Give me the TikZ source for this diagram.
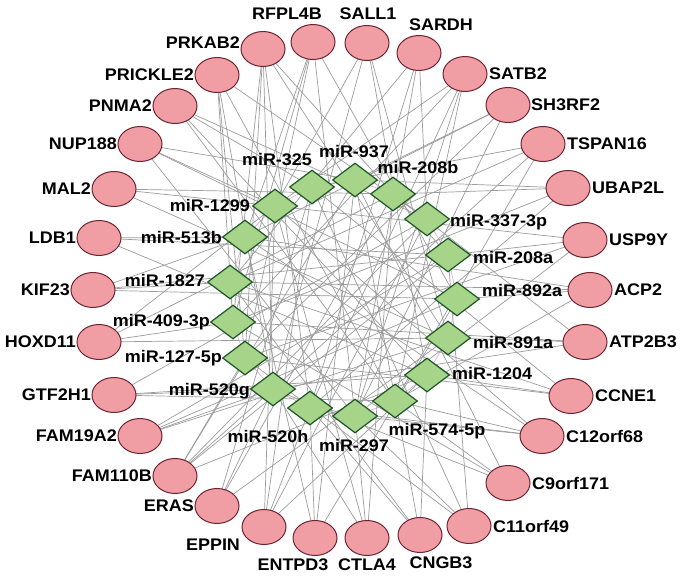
\documentclass[tikz,border=0pt]{standalone}
\usepackage{fontspec}
\setmainfont{Liberation Sans}[FakeStretch=1.07]
\usetikzlibrary{shapes.geometric}
\pgfdeclarelayer{bg}
\pgfsetlayers{bg,main}
\definecolor{pinkfill}{HTML}{F09EA3}
\definecolor{pinkdraw}{HTML}{6E2433}
\definecolor{greenfill}{HTML}{A6D58A}
\definecolor{greendraw}{HTML}{1C5426}
\definecolor{edgegray}{HTML}{9C9C9C}
\definecolor{ringpink}{HTML}{D9A8D0}
\begin{document}
\begin{tikzpicture}[x=1pt,y=-1pt,
  gene/.style={ellipse,draw=pinkdraw,fill=pinkfill,line width=1pt,minimum width=44pt,minimum height=35pt,inner sep=0pt},
  mirna/.style={diamond,draw=greendraw,fill=greenfill,line width=1.2pt,minimum width=45pt,minimum height=34pt,inner sep=0pt},
  lbl/.style={font=\fontsize{16.8}{18}\selectfont\bfseries,inner sep=0pt,text=black},
  edge/.style={draw=edgegray,line width=0.7pt},
  ring/.style={draw=ringpink,line width=0.6pt}]
\useasboundingbox (0,0) rectangle (685,583);
% genes
\foreach \n/\x/\y in {RFPL4B/313/42, SALL1/367/43, SARDH/419/53, SATB2/465/74, SH3RF2/508/105,
  TSPAN16/543/144, UBAP2L/568/188, USP9Y/585/240, ACP2/590/290, ATP2B3/585/342, CCNE1/571/396,
  C12orf68/542/436, C9orf171/508/483, C11orf49/469/526, CNGB3/420/535, CTLA4/367/538,
  ENTPD3/315/538, EPPIN/264/527, ERAS/217/506, FAM110B/175/476, FAM19A2/140/436,
  GTF2H1/114/395, HOXD11/99/342, KIF23/93/290, LDB1/99/238, MAL2/114/189, NUP188/140/144,
  PNMA2/175/106, PRICKLE2/217/75, PRKAB2/263/49}
  \node[gene] (\n) at (\x,\y) {};
% miRNAs
\foreach \n/\x/\y in {m937/355/180, m208b/393/194, m337/427/219, m208a/448/255, m892/457/299,
  m891/448/338, m1204/427/375, m574/395/401, m297/355/416, m520h/310/408, m520g/273/389,
  m127/245/358, m409/233/322, m1827/230/282, m513/245/237, m1299/275/206, m325/312/187}
  \node[mirna] (\n) at (\x,\y) {};
% gene labels
\foreach \n/\t/\a/\x/\y in {
  lRFPL4B/RFPL4B/center/287/14, lSALL1/SALL1/center/368/14, lSARDH/SARDH/center/441/25,
  lSATB2/SATB2/west/489/74, lSH3RF2/SH3RF2/west/531/105, lTSPAN16/TSPAN16/west/567/144,
  lUBAP2L/UBAP2L/west/592/188, lUSP9Y/USP9Y/west/609/240, lACP2/ACP2/west/614/290,
  lATP2B3/ATP2B3/west/609/342, lCCNE1/CCNE1/west/595/396, lC12orf68/C12orf68/west/566/436,
  lC9orf171/C9orf171/west/532/483, lC11orf49/C11orf49/west/493/526,
  lCNGB3/CNGB3/center/441/563, lCTLA4/CTLA4/center/367/565, lENTPD3/ENTPD3/center/293/565,
  lEPPIN/EPPIN/center/213/545, lERAS/ERAS/east/194/506, lFAM110B/FAM110B/east/152/476,
  lFAM19A2/FAM19A2/east/117/436, lGTF2H1/GTF2H1/east/91/395, lHOXD11/HOXD11/east/76/342,
  lKIF23/KIF23/east/70/290, lLDB1/LDB1/east/76/238, lMAL2/MAL2/east/91/189,
  lNUP188/NUP188/east/117/144, lPNMA2/PNMA2/east/152/106, lPRICKLE2/PRICKLE2/east/194/75,
  lPRKAB2/PRKAB2/east/240/43}
  \node[lbl,anchor=\a] (\n) at (\x,\y) {\t};
% miRNA labels
\foreach \n/\t/\a/\x/\y in {
  l937/miR-937/center/354/152, l325/miR-325/center/277/160, l208b/miR-208b/center/418/167,
  l1299/miR-1299/east/250/205, l513/miR-513b/east/222/238, l1827/miR-1827/east/205/280,
  l409/miR-409-3p/east/210/322, l127/miR-127-5p/east/222/358, l520g/miR-520g/east/250/391,
  l520h/miR-520h/center/268/436, l297/miR-297/center/354/445, l574/miR-574-5p/center/437/431,
  l1204/miR-1204/west/452/373, l891/miR-891a/west/473/342, l892/miR-892a/west/482/290,
  l208a/miR-208a/west/473/257, l337/miR-337-3p/west/450/222}
  \node[lbl,anchor=\a] (\n) at (\x,\y) {\t};
\begin{pgfonlayer}{bg}
\fill[white] (0,0) rectangle (685,583);
\foreach \a/\b in {m937/m208b, m208b/m337, m337/m208a, m208a/m892, m892/m891, m891/m1204,
  m1204/m574, m574/m297, m297/m520h, m520h/m520g, m520g/m127, m127/m409, m409/m1827,
  m1827/m513, m513/m1299, m1299/m325, m325/m937}
  \draw[ring] (\a.center) -- (\b.center);
\foreach \a/\b in {
  RFPL4B/m513, RFPL4B/m127, RFPL4B/m409, RFPL4B/m297, RFPL4B/m892,
  SALL1/m1299, SALL1/m520g, SALL1/m891, SALL1/m1204,
  SARDH/m1827, SARDH/m520h, SARDH/m297, SARDH/m337,
  SATB2/m1299, SATB2/m409, SATB2/m574, SATB2/m297, SATB2/m520h,
  SH3RF2/m513, SH3RF2/m127, SH3RF2/m297, SH3RF2/m937,
  TSPAN16/m1827, TSPAN16/m520g, TSPAN16/m574, TSPAN16/m325,
  UBAP2L/m208b, UBAP2L/m937, UBAP2L/m409, UBAP2L/m520h,
  USP9Y/m208a, USP9Y/m1299, USP9Y/m127, USP9Y/m297,
  ACP2/m892, ACP2/m1827, ACP2/m513, ACP2/m574,
  ATP2B3/m891, ATP2B3/m409, ATP2B3/m520g, ATP2B3/m208b,
  CCNE1/m1204, CCNE1/m127, CCNE1/m325, CCNE1/m1827,
  C12orf68/m574, C12orf68/m520h, C12orf68/m513, C12orf68/m1299, C12orf68/m297,
  C9orf171/m574, C9orf171/m520g, C9orf171/m937, C9orf171/m409,
  C11orf49/m297, C11orf49/m127, C11orf49/m325, C11orf49/m208a,
  CNGB3/m520h, CNGB3/m1827, CNGB3/m1204, CNGB3/m937,
  CTLA4/m297, CTLA4/m1299, CTLA4/m208b, CTLA4/m520g,
  ENTPD3/m520h, ENTPD3/m937, ENTPD3/m892, ENTPD3/m513,
  EPPIN/m520h, EPPIN/m337, EPPIN/m1204, EPPIN/m325, EPPIN/m1299,
  ERAS/m520g, ERAS/m208b, ERAS/m325, ERAS/m891,
  FAM110B/m127, FAM110B/m520g, FAM110B/m337, FAM110B/m208a, FAM110B/m937, FAM110B/m1204,
  FAM19A2/m520g, FAM19A2/m892, FAM19A2/m891, FAM19A2/m208a,
  GTF2H1/m520g, GTF2H1/m574, GTF2H1/m1204, GTF2H1/m337,
  HOXD11/m409, HOXD11/m891, HOXD11/m208b, HOXD11/m1299,
  KIF23/m1827, KIF23/m208a, KIF23/m892, KIF23/m513,
  LDB1/m513, LDB1/m1204, LDB1/m208a,
  MAL2/m1299, MAL2/m208b, MAL2/m891,
  NUP188/m1299, NUP188/m937, NUP188/m892, NUP188/m297,
  PNMA2/m325, PNMA2/m337, PNMA2/m1204, PNMA2/m574,
  PRICKLE2/m409, PRICKLE2/m127, PRICKLE2/m520g, PRICKLE2/m337, PRICKLE2/m574,
  PRKAB2/m127, PRKAB2/m409, PRKAB2/m520g, PRKAB2/m520h, PRKAB2/m208a, PRKAB2/m891}
  \draw[edge] (\a.center) -- (\b.center);
\end{pgfonlayer}
\end{tikzpicture}
\end{document}
